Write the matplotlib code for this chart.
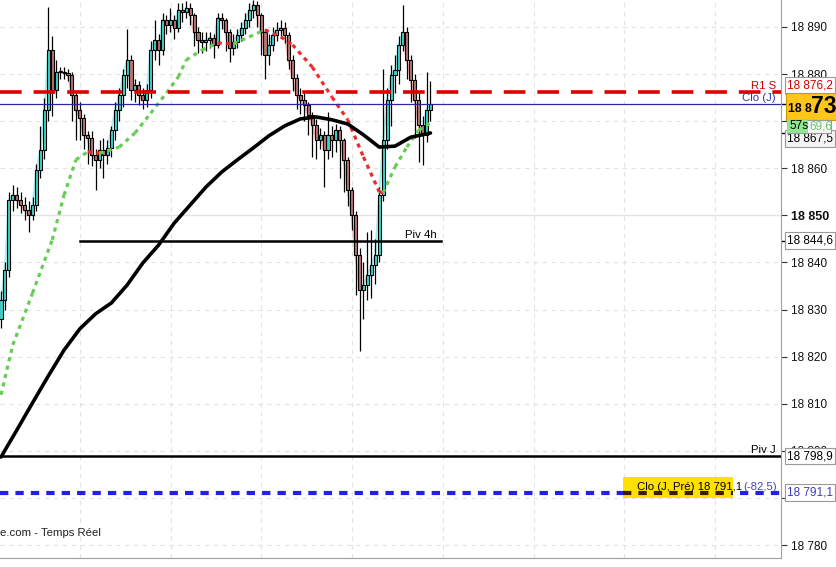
import matplotlib
matplotlib.use('Agg')
import matplotlib.pyplot as plt
import numpy as np
from matplotlib.patches import Rectangle

plt.rcParams['font.family'] = ['Liberation Sans', 'DejaVu Sans']

# ---------------- data ----------------
first_open = 18828.0
closes = [18832.0, 18838.4, 18853.3, 18854.3, 18853.3, 18852.2, 18851.2, 18850.1, 18852.2, 18859.6,
          18863.9, 18872.4, 18885.1, 18876.6, 18880.4, 18880.4, 18880.2, 18879.8, 18875.6, 18872.4,
          18870.7, 18867.1, 18866.4, 18862.8, 18861.8, 18863.9, 18862.8, 18864.3, 18868.1, 18872.4,
          18875.6, 18879.8, 18883.0, 18876.6, 18877.7, 18875.6, 18874.5, 18876.6, 18885.1, 18887.2,
          18885.1, 18891.5, 18890.4, 18891.5, 18889.8, 18893.6, 18893.2, 18894.0, 18892.5, 18888.9,
          18887.2, 18886.8, 18887.2, 18887.7, 18886.2, 18891.9, 18891.5, 18888.9, 18885.5, 18886.8,
          18888.3, 18889.8, 18891.5, 18893.6, 18894.7, 18892.5, 18888.9, 18884.1, 18886.2, 18888.3,
          18889.4, 18889.8, 18888.3, 18883.0, 18879.2, 18875.6, 18874.5, 18873.4, 18871.3, 18869.2,
          18866.0, 18867.1, 18863.9, 18867.1, 18866.0, 18868.1, 18866.0, 18861.8, 18855.4, 18850.1,
          18841.6, 18834.2, 18835.2, 18837.3, 18839.5, 18841.6, 18854.3, 18866.0, 18874.5, 18879.8,
          18880.9, 18886.2, 18888.9, 18883.0, 18878.7, 18874.5, 18869.2, 18867.1, 18872.4, 18873.7]
highs = [18834, 18840, 18855, 18856.5, 18856, 18855, 18854, 18853, 18854, 18861,
         18869, 18875, 18894.3, 18888, 18883, 18881.5, 18881.5, 18881, 18880.5, 18876.5,
         18874, 18871.5, 18868, 18868, 18864, 18866, 18866.5, 18866, 18869, 18874,
         18877, 18881, 18889.5, 18884, 18879, 18878.5, 18877, 18878, 18887, 18891.5,
         18888.5, 18893, 18892.5, 18894, 18892.5, 18895, 18895, 18895.5, 18895, 18893,
         18890, 18889, 18889, 18889, 18888.5, 18893, 18893, 18892, 18889.5, 18888.5,
         18889.5, 18891, 18893, 18895, 18895.7, 18895.5, 18893, 18889.5, 18888.5, 18890,
         18891, 18891.5, 18891, 18889, 18884, 18880, 18877, 18876, 18874, 18872,
         18870.5, 18868.5, 18868, 18872, 18869, 18869.5, 18869, 18866.5, 18862.5, 18856,
         18851, 18843, 18840, 18846.5, 18847, 18845, 18856, 18881, 18877, 18882,
         18884, 18888, 18894.7, 18890, 18884, 18880, 18876, 18871, 18880.4, 18878.5]
lows = [18826, 18830, 18837, 18851, 18851.5, 18850.5, 18849, 18846.5, 18849, 18851,
        18858, 18862, 18870, 18871, 18875, 18879, 18879, 18878.5, 18870, 18866,
        18866, 18864, 18861, 18860.5, 18855.3, 18860, 18858, 18861, 18862.5, 18866,
        18870, 18873, 18877, 18874.5, 18874, 18873.5, 18872.5, 18873, 18875, 18883,
        18882, 18884, 18888.5, 18889, 18887.5, 18889, 18891, 18892, 18890.5, 18886,
        18884.5, 18884.5, 18885, 18885.5, 18883.5, 18885.5, 18889.5, 18885, 18882.5, 18884,
        18885.5, 18887, 18888.5, 18890, 18892, 18890, 18884, 18879, 18882, 18885,
        18887, 18888, 18886.5, 18881, 18876.5, 18872.5, 18871.5, 18870, 18867, 18862.5,
        18862, 18864, 18856, 18862, 18862.5, 18863.5, 18858, 18855, 18852, 18847,
        18833, 18821.3, 18828, 18832, 18832.5, 18835.5, 18840, 18853, 18864, 18869,
        18876, 18878, 18885, 18879, 18874, 18866.5, 18861.3, 18860.8, 18865.5, 18870]

ma_long_idx = [0, 4, 8, 12, 16, 20, 24, 28, 32, 36, 40, 44, 48, 52, 56, 60, 64, 68, 72, 76,
               80, 84, 88, 92, 96, 100, 104, 108, 109]
ma_long = [18798.7, 18804.4, 18810.2, 18815.9, 18821.4, 18825.9, 18829.1, 18831.4, 18835.2, 18839.9,
           18843.7, 18848.4, 18852.2, 18856.0, 18859.2, 18861.8, 18864.3, 18866.9, 18869.0, 18870.5,
           18870.9, 18870.3, 18869.4, 18867.1, 18864.5, 18864.7, 18866.6, 18867.3, 18867.5]

ma_short_idx = [0, 3, 8, 13, 16, 19, 22, 25, 30, 34, 38, 42, 45, 47, 51, 55, 59, 63, 67, 71,
                74, 79, 84, 88, 92, 96, 97, 100, 103, 106, 109]
ma_short = [18811.9, 18822.5, 18833.5, 18844.8, 18854.3, 18861.8, 18863.5, 18863.2, 18864.5, 18867.5,
            18871.7, 18876.0, 18879.4, 18883.0, 18885.1, 18886.6, 18886.4, 18887.9, 18889.4, 18887.9,
            18886.2, 18881.5, 18875.1, 18870.3, 18862.4, 18855.0, 18854.8, 18860.3, 18864.5, 18868.1, 18869.6]

r1_s = 18876.2
clo_j = 18873.7
piv_4h = 18844.6
piv_j = 18798.9
clo_j_pre = 18791.1
clo_change = -82.5
countdown = "57s"
y_ticks = [18780, 18790, 18800, 18810, 18820, 18830, 18840, 18850, 18860, 18870, 18880, 18890]
hidden_tick = 18870
bold_tick = 18850
footer = "e.com - Temps Réel"

FS = 8.2


def fr(v, dec=1):
    s = f"{v:,.{dec}f}"
    return s.replace(',', ' ').replace('.', ',')


# ---------------- figure ----------------
W, H = 836, 567
fig = plt.figure(figsize=(W / 100, H / 100), dpi=100)
AX_W, AX_H = 781, 558
ax = fig.add_axes([0, (H - AX_H) / H, AX_W / W, AX_H / H])
ymin, ymax = 18777.26, 18895.73
ax.set_ylim(ymin, ymax)
n = len(closes)
step_px = 3.94
xmin = -1 / step_px
xmax = xmin + AX_W / step_px
ax.set_xlim(xmin, xmax)
PX = (ymax - ymin) / AX_H

ytr = ax.get_yaxis_transform()   # x axes-fraction, y data

# grid
for t in y_ticks:
    if t == bold_tick:
        ax.axhline(t, color='#e4e4e4', lw=1.0, zorder=0)
    else:
        ax.axhline(t, color='#e2e2e2', lw=0.8, ls=(0, (4, 4)), zorder=0)
for gx in [80, 170.5, 261, 352, 443, 534, 624, 715]:
    ax.plot([gx / AX_W] * 2, [0, 1], transform=ax.transAxes, color='#e2e2e2', lw=0.8,
            ls=(0, (4, 4)), zorder=0)

x = np.arange(n)
c = np.array(closes)
o = np.concatenate([[first_open], c[:-1]])
hi = np.array(highs)
lo = np.array(lows)
up = c >= o

# light close trace
for i in range(1, n):
    ax.plot([x[i - 1], x[i]], [c[i - 1], c[i]], color='#a8f0ee' if c[i] >= c[i - 1] else '#f2b8b8',
            lw=1.6, zorder=1, solid_capstyle='round')

# wicks
ax.vlines(x, lo, hi, color='black', lw=0.9, zorder=2)
# bodies
body_bottom = np.minimum(o, c)
body_h = np.maximum(np.abs(c - o), 0.15)
ax.bar(x[up], body_h[up], bottom=body_bottom[up], width=0.78, color='#3fd3cb',
       edgecolor='black', linewidth=0.8, zorder=3)
ax.bar(x[~up], body_h[~up], bottom=body_bottom[~up], width=0.78, color='#b87474',
       edgecolor='black', linewidth=0.8, zorder=3)

# long MA
ax.plot(ma_long_idx, ma_long, color='black', lw=2.6, zorder=5, solid_capstyle='round')

# short MA coloured by slope
for i in range(1, len(ma_short_idx)):
    col = '#66cc55' if ma_short[i] >= ma_short[i - 1] else '#ee2a2a'
    ax.plot(ma_short_idx[i - 1:i + 1], ma_short[i - 1:i + 1], color=col, lw=2.3,
            ls=(0, (1.3, 1.4)), zorder=4)

# horizontal levels
ax.axhline(r1_s, color='#e00000', lw=2.6, ls=(0, (6, 3.3)), zorder=6)
ax.axhline(clo_j, color='#2a2aa0', lw=0.9, zorder=6)
ax.plot([80 / AX_W, 441 / AX_W], [piv_4h, piv_4h], transform=ytr, color='black', lw=1.8, zorder=6)
ax.axhline(piv_j, color='black', lw=1.8, zorder=6)
ax.axhline(clo_j_pre, color='#2222dd', lw=3.0, ls=(0, (2.0, 1.7)), zorder=6)

# level labels (left of axis)
ax.text(776 / AX_W, r1_s + 1.2, "R1 S", transform=ytr, ha='right', va='center', fontsize=FS,
        color='#d00000', zorder=7)
ax.text(776 / AX_W, clo_j + 1.2, "Clo (J)", transform=ytr, ha='right', va='center', fontsize=FS,
        color='#3333aa', zorder=7)
ax.text(437 / AX_W, piv_4h + 1.3, "Piv 4h", transform=ytr, ha='right', va='center', fontsize=FS,
        color='black', zorder=7)
ax.text(776 / AX_W, piv_j + 1.3, "Piv J", transform=ytr, ha='right', va='center', fontsize=FS,
        color='black', zorder=7)
ax.add_patch(Rectangle((623 / AX_W, clo_j_pre - 1.0), 110 / AX_W, 4.3, transform=ytr,
                       facecolor='#ffe000', edgecolor='none', zorder=7))
ax.plot([623 / AX_W, 733 / AX_W], [clo_j_pre, clo_j_pre], transform=ytr, color='#3a1c00',
        lw=3.0, ls=(0, (2.0, 1.7)), zorder=7.5)
t1 = ax.text(637 / AX_W, clo_j_pre + 1.3, f"Clo (J, Pré) {fr(clo_j_pre)}", transform=ytr,
             ha='left', va='center', fontsize=FS, color='black', zorder=8)
ax.annotate(f"({fr(clo_change)})", xy=(1, 0.5), xycoords=t1, xytext=(1, 0),
            textcoords='offset points', ha='left', va='center', fontsize=FS, color='#4444cc',
            zorder=8)

# footer
ax.text(0.0, 25 / AX_H, footer, transform=ax.transAxes, ha='left', va='center', fontsize=FS,
        color='#222222')

# axes styling
for s in ['top', 'left']:
    ax.spines[s].set_visible(False)
ax.spines['right'].set_color('#a0a0a0')
ax.spines['bottom'].set_color('#a0a0a0')
ax.set_xticks([])
ax.yaxis.tick_right()
ax.set_yticks(y_ticks, ['' if t == hidden_tick else fr(t, 0) for t in y_ticks])
ax.tick_params(axis='y', direction='out', length=4, width=0.8, color='#333333', labelsize=FS + 0.3,
               pad=3, labelcolor='#111111')
for lab, t in zip(ax.get_yticklabels(), y_ticks):
    if t == bold_tick:
        lab.set_fontweight('bold')
        lab.set_fontsize(FS + 0.8)
ax.set_yticks([clo_j, ma_long[-1], piv_4h], minor=True)
ax.tick_params(axis='y', which='minor', direction='out', length=4, width=1.0, color='black')

# right-axis value boxes
bx = 787 / AX_W
box_kw = dict(boxstyle='square,pad=0.2', fc='white', ec='#9a9a9a', lw=0.8)
ax.text(bx, r1_s + 1.4, fr(r1_s), transform=ytr, ha='left', va='center', fontsize=FS + 0.3,
        color='#d00000', bbox=box_kw, clip_on=False, zorder=9)
# big price box
ax.add_patch(Rectangle((786 / AX_W, ymax - 120 * PX), 60 / AX_W, 27 * PX, transform=ytr,
                       facecolor='#ffc61a', edgecolor='#c89a00', lw=0.8, clip_on=False, zorder=10))
last = closes[-1]
txt = fr(last)
ax.text(788 / AX_W, ymax - 112 * PX, txt[:4], transform=ytr, ha='left', va='baseline',
        fontsize=8.8, fontweight='bold', color='black', clip_on=False, zorder=11)
ax.text(811 / AX_W, ymax - 112 * PX, txt[4:7], transform=ytr, ha='left', va='baseline',
        fontsize=16.5, fontweight='bold', color='black', clip_on=False, zorder=11)
# countdown and short MA value
ax.add_patch(Rectangle((787 / AX_W, ymax - 133 * PX), 44 / AX_W, 13 * PX, transform=ytr,
                       facecolor='#f4f4f4', edgecolor='#9a9a9a', lw=0.8, clip_on=False, zorder=10))
ax.add_patch(Rectangle((787 / AX_W, ymax - 133 * PX), 21 / AX_W, 13 * PX, transform=ytr,
                       facecolor='#8ee68e', edgecolor='none', clip_on=False, zorder=10.5))
ax.text(789 / AX_W, ymax - 126.5 * PX, countdown, transform=ytr, ha='left', va='center',
        fontsize=FS + 0.3, color='black', clip_on=False, zorder=11)
ax.text(809 / AX_W, ymax - 126.5 * PX, fr(ma_short[-1])[-4:], transform=ytr, ha='left',
        va='center', fontsize=FS + 0.3, color='#6cc66c', clip_on=False, zorder=11)
ax.text(bx, ma_long[-1] - 1.2, fr(ma_long[-1]), transform=ytr, ha='left', va='center', fontsize=FS + 0.3,
        color='black', bbox=dict(boxstyle='square,pad=0.2', fc='#f4f4f4', ec='#9a9a9a', lw=0.8),
        clip_on=False, zorder=9)
ax.text(bx, piv_4h, fr(piv_4h), transform=ytr, ha='left', va='center', fontsize=FS + 0.3,
        color='black', bbox=box_kw, clip_on=False, zorder=9)
ax.text(bx, piv_j, fr(piv_j), transform=ytr, ha='left', va='center', fontsize=FS + 0.3,
        color='black', bbox=box_kw, clip_on=False, zorder=9)
ax.text(bx, clo_j_pre, fr(clo_j_pre), transform=ytr, ha='left', va='center', fontsize=FS + 0.3,
        color='#3a3ac0', bbox=box_kw, clip_on=False, zorder=9)

fig.savefig('out.png', dpi=100, facecolor='white')
